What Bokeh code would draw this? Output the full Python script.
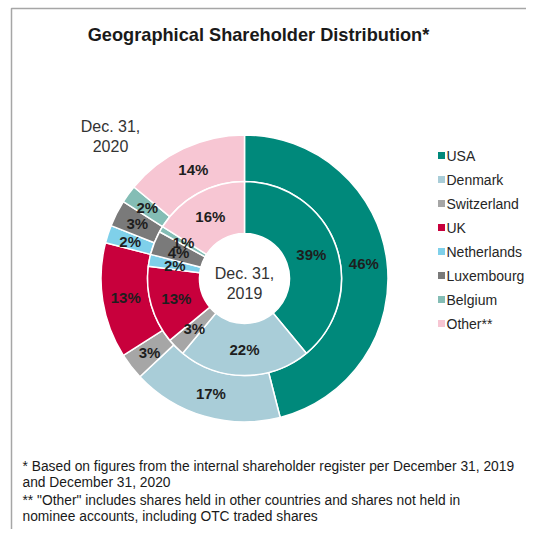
import math
from bokeh.plotting import figure
from bokeh.models import Range1d, ColumnDataSource
from bokeh.core.properties import value
from bokeh.embed import file_html
from bokeh.resources import INLINE

categories = ["USA", "Denmark", "Switzerland", "UK", "Netherlands", "Luxembourg", "Belgium", "Other**"]
share_2020 = [46, 17, 3, 13, 2, 3, 2, 14]
share_2019 = [39, 22, 3, 13, 2, 4, 1, 16]
colors = ["#00897B", "#A9CDD8", "#A6A6A6", "#C8003C", "#7FD0EA", "#7A7A7A", "#84BDB5", "#F7C6D3"]

W, H = 526, 529
FONT = "Liberation Sans"

def Y(py):
    return 545 - py

p = figure(width=W, height=H, output_backend="svg", toolbar_location=None,
           x_range=Range1d(0, W), y_range=Range1d(Y(H), Y(0)),
           min_border=0)
p.axis.visible = False
p.grid.visible = False
p.outline_line_color = None
p.background_fill_color = "white"
p.border_fill_color = "white"

# frame
p.line([11, 11, 560], [Y(560), Y(8), Y(8)], line_color="#A6A6A6", line_width=1.5)

cx, cy = 244, Y(278)
R_out, R_mid, R_hole = 143.5, 97, 45

def ring(values, r_in, r_out):
    total = float(sum(values))
    starts, ends, lx, ly, labels = [], [], [], [], []
    cum = 0.0
    rl = (r_in + r_out) / 2
    for v in values:
        a0 = math.pi / 2 - 2 * math.pi * cum / total
        cum += v
        a1 = math.pi / 2 - 2 * math.pi * cum / total
        starts.append(a0)
        ends.append(a1)
        am = (a0 + a1) / 2
        lx.append(cx + rl * math.cos(am))
        ly.append(cy + rl * math.sin(am))
        labels.append(f"{v}%")
    src = ColumnDataSource(dict(start=starts, end=ends, color=colors, lx=lx, ly=ly, label=labels))
    p.annular_wedge(x=cx, y=cy, inner_radius=r_in, outer_radius=r_out,
                    inner_radius_units="screen", outer_radius_units="screen",
                    start_angle="start", end_angle="end", direction="clock",
                    fill_color="color", line_color="white", line_width=1.5, source=src)
    p.text(x="lx", y="ly", text="label", source=src, text_align="center",
           text_baseline="middle", text_font=value(FONT), text_font_style="bold",
           text_font_size="15px", text_color="#1E1E1E")

ring(share_2020, R_mid, R_out)
ring(share_2019, R_hole, R_mid)

# center labels
p.text(x=[cx, cx], y=[Y(273), Y(292)], text=["Dec. 31,", "2019"], text_align="center",
       text_baseline="middle", text_font=value(FONT), text_font_size="16px", text_color="#333333")
p.text(x=[110, 110], y=[Y(126), Y(145)], text=["Dec. 31,", "2020"], text_align="center",
       text_baseline="middle", text_font=value(FONT), text_font_size="16px", text_color="#333333")

# title
p.text(x=[258], y=[Y(34)], text=["Geographical Shareholder Distribution*"], text_align="center",
       text_baseline="middle", text_font=value(FONT), text_font_style="bold",
       text_font_size="18.2px", text_color="#1A1A1A")

# legend
leg_y = [Y(155 + 24 * i) for i in range(len(categories))]
lsrc = ColumnDataSource(dict(x=[441] * len(categories), y=leg_y, tx=[446] * len(categories),
                             color=colors, name=categories))
p.scatter(x="x", y="y", marker="square", size=7, fill_color="color", line_color=None, source=lsrc)
p.text(x="tx", y="y", text="name", source=lsrc, text_align="left", text_baseline="middle",
       text_font=value(FONT), text_font_size="14px", text_color="#262626")

# footnotes
notes = ["* Based on figures from the internal  shareholder register per December 31, 2019",
         "and December 31, 2020",
         "** \"Other\" includes shares held in other countries and shares not held in",
         "nominee accounts, including OTC traded shares"]
note_y = [Y(466), Y(482), Y(500), Y(516)]
p.text(x=[22] * 4, y=note_y, text=notes, text_align="left", text_baseline="middle",
       text_font=value(FONT), text_font_size="13.8px", text_color="#1A1A1A")

open("out.html", "w").write(file_html(p, INLINE))
